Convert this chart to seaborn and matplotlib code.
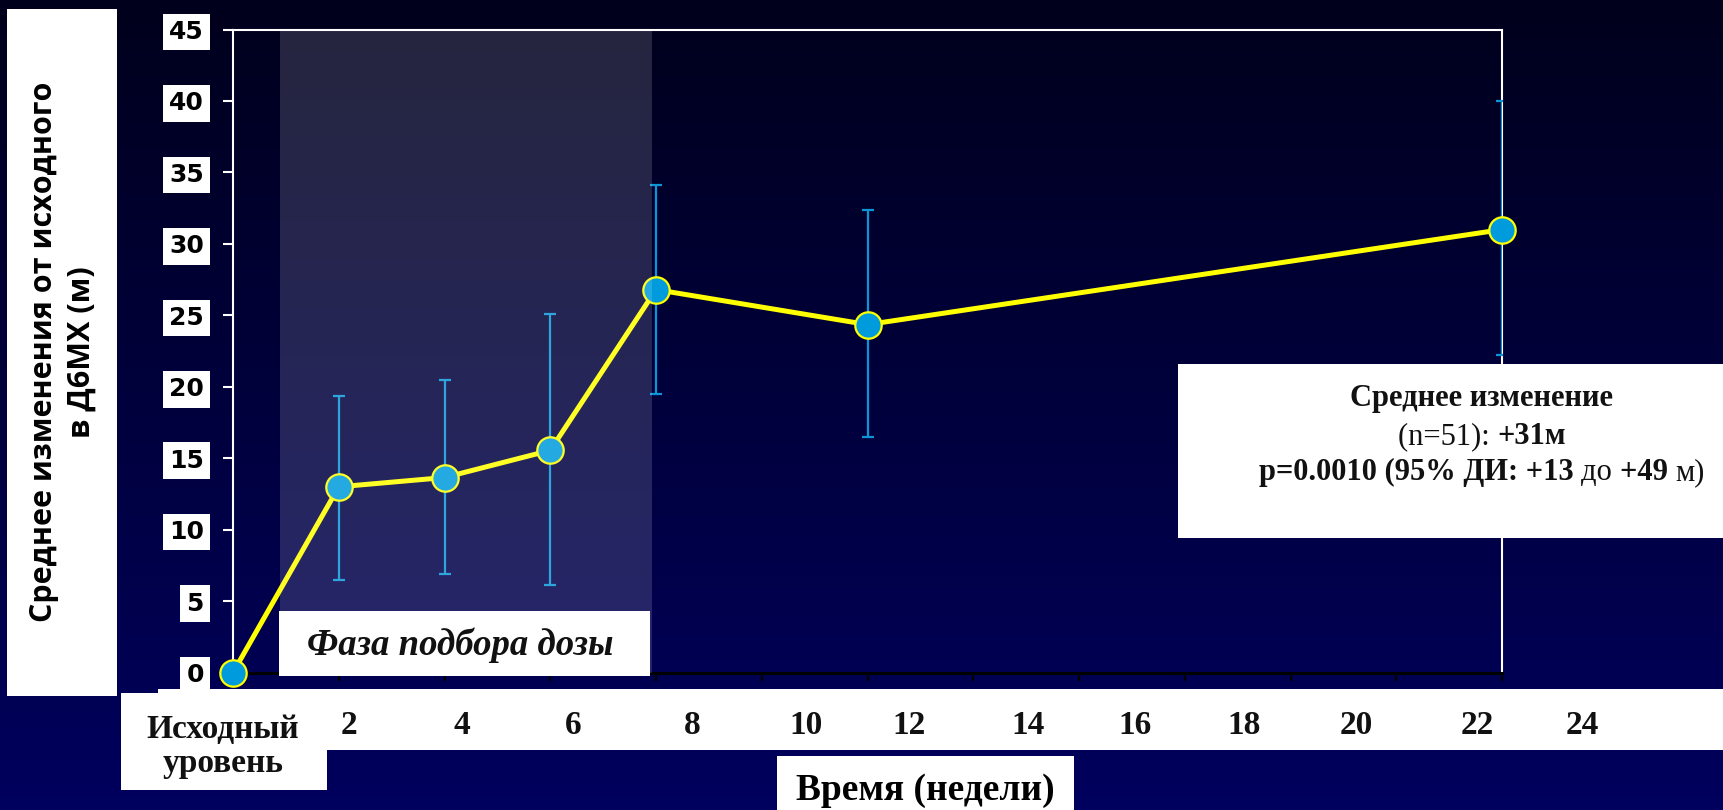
import numpy as np
import pandas as pd
import matplotlib
matplotlib.use("Agg")
import matplotlib.pyplot as plt
import seaborn as sns
from matplotlib.patches import Rectangle
from matplotlib.transforms import blended_transform_factory

# ---------------- data ----------------
weeks = [0, 2, 4, 6, 8, 12, 24]
mean_change = [0.0, 13.0, 13.65, 15.55, 26.8, 24.35, 31.0]
err_low = [np.nan, 6.5, 6.9, 6.1, 19.5, 16.5, 22.2]
err_high = [np.nan, 19.35, 20.5, 25.1, 34.1, 32.4, 40.0]

y_ticks = [0, 5, 10, 15, 20, 25, 30, 35, 40, 45]
x_ticks = [0, 2, 4, 6, 8, 10, 12, 14, 16, 18, 20, 22, 24]
x_tick_labels = ["Исходный\nуровень", "2", "4", "6", "8", "10", "12",
                 "14", "16", "18", "20", "22", "24"]
# where the labels sit in the (shifted) white label strip, in weeks
x_label_pos = [-0.19, 2.19, 4.33, 6.43, 8.68, 10.84, 12.78,
               15.04, 17.06, 19.12, 21.24, 23.53, 25.51]
titration_phase = (0.89, 7.93)

y_label = "Среднее изменения от исходного\nв Д6МХ (м)"
x_label = "Время (недели)"
phase_label = "Фаза подбора дозы"
note_lines = [
    [("Среднее изменение", "bold")],
    [("(n=51): ", "normal"), ("+31м", "bold")],
    [("p=0.0010 (95% ДИ: +13 ", "bold"), ("до ", "normal"),
     ("+49 ", "bold"), ("м)", "normal")],
]

df = pd.DataFrame({"week": weeks, "mean": mean_change,
                   "lo": err_low, "hi": err_high})

# ---------------- figure ----------------
W, H = 1723, 810
SERIF = ["Liberation Serif", "DejaVu Serif"]
SANS = ["Open Sans", "DejaVu Sans"]

fig = plt.figure(figsize=(W / 100, H / 100), dpi=100)


def fx(px):
    return px / W


def fy(py):
    return 1 - py / H


# gradient background
bg = fig.add_axes([0, 0, 1, 1], zorder=-10)
t = np.linspace(0, 1, 256)
top = np.array([0, 0, 0x1c]) / 255
bot = np.array([0, 0, 0x5e]) / 255
img = (top[None, :] * (1 - t[:, None]) + bot[None, :] * t[:, None])[:, None, :]
bg.imshow(img, aspect="auto", extent=[0, 1, 0, 1], origin="upper")
bg.set_axis_off()

ax = fig.add_axes([fx(233), fy(672.6), fx(1502) - fx(233), fy(29.5) - fy(672.6)], zorder=1)
ax.set_facecolor("none")

sns.lineplot(data=df, x="week", y="mean", ax=ax, color="#ffff00", linewidth=3.6,
             marker="o", markersize=19, markerfacecolor="#009bdc",
             markeredgecolor="#ffff00", markeredgewidth=1.6, zorder=4,
             estimator=None)
for ln in ax.lines:
    ln.set_clip_on(False)

m = df.dropna()
ax.errorbar(m["week"], m["mean"], yerr=[m["mean"] - m["lo"], m["hi"] - m["mean"]],
            fmt="none", ecolor="#0a96d6", elinewidth=1.6, capsize=4.5,
            capthick=1.6, zorder=3)

ax.axvspan(*titration_phase, color="white", alpha=0.15, lw=0, zorder=5)

ax.set_xlim(0, 24)
ax.set_ylim(0, 45)
ax.set_xticks(x_ticks)
ax.set_xticklabels([])
ax.set_yticks(y_ticks)
ax.set_xlabel("")
ax.set_ylabel("")
ax.tick_params(axis="x", colors="black", length=6, width=1.6, direction="out")
ax.tick_params(axis="y", colors="white", length=7, width=1.5, direction="out",
               pad=14, labelcolor="black", labelsize=18)
for lbl in ax.get_yticklabels():
    lbl.set_fontweight("bold")
    lbl.set_family(["DejaVu Sans"])
    lbl.set_bbox(dict(facecolor="white", edgecolor="none", boxstyle="square,pad=0.25"))

for s in ("left", "top", "right"):
    ax.spines[s].set_color("white")
    ax.spines[s].set_linewidth(1.5)
ax.spines["bottom"].set_color("black")
ax.spines["bottom"].set_linewidth(2.2)

# ---------------- white boxes ----------------
def box(x0, y0, x1, y1):
    fig.add_artist(Rectangle((fx(x0), fy(y1)), fx(x1) - fx(x0), fy(y0) - fy(y1),
                             transform=fig.transFigure, facecolor="white",
                             edgecolor="none", zorder=6))


box(7, 9, 117, 696)        # y label
box(158, 689, 1723, 750)   # tick label strip
box(121, 693, 327, 790)    # "Исходный уровень"
box(777, 756, 1074, 812)   # x label
box(279, 611, 650, 676)    # phase label
box(1178, 364, 1723, 538)  # annotation

fig.text(fx(63), fy(352), y_label, rotation=90, ha="center", va="center",
         multialignment="center", fontsize=22, fontweight="bold", family=SANS,
         linespacing=1.35, color="black", zorder=7)

fig.text(fx(925), fy(790), x_label, ha="center", va="center", fontsize=27,
         fontweight="bold", family=SERIF, color="black", zorder=7)

fig.text(fx(460), fy(645), phase_label, ha="center", va="center", fontsize=26.5,
         fontweight="bold", style="italic", family=SERIF, color="#111111", zorder=7)

trans = blended_transform_factory(ax.transData, fig.transFigure)
LINE_PX = 38
for pos, lab in zip(x_label_pos, x_tick_labels):
    n_extra = lab.count("\n")
    fig.text(pos, fy(734 + LINE_PX * n_extra), lab, transform=trans, ha="center",
             va="baseline", fontsize=24, fontweight="bold", family=SERIF,
             color="#111111", linespacing=1.12, zorder=7, multialignment="center")

# annotation with mixed weights, centred per line
fig.canvas.draw()
renderer = fig.canvas.get_renderer()
NOTE_SIZE = 22


def measure(s, weight):
    tt = fig.text(0, 0, s + "|", fontsize=NOTE_SIZE, fontweight=weight, family=SERIF)
    w1 = tt.get_window_extent(renderer).width
    tt.set_text("|")
    w2 = tt.get_window_extent(renderer).width
    tt.remove()
    return w1 - w2


baselines = [406, 444, 480]
cx = 1482
for pieces, base in zip(note_lines, baselines):
    widths = [measure(s, w) for s, w in pieces]
    x = cx - sum(widths) / 2
    for (s, w), wd in zip(pieces, widths):
        fig.text(fx(x), fy(base), s, ha="left", va="baseline", fontsize=NOTE_SIZE,
                 fontweight=w, family=SERIF, color="#111111", zorder=7)
        x += wd

fig.savefig("out.png", dpi=100)
